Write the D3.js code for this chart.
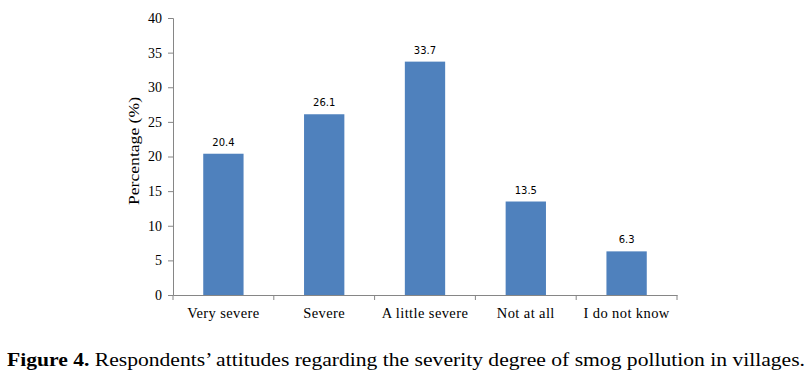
<!DOCTYPE html>
<html>
<head>
<meta charset="utf-8">
<script src="https://cdn.jsdelivr.net/npm/d3@7"></script>
<style>
  body { margin: 0; background: #fff; }
</style>
</head>
<body>
<div class="chart"></div>
<script>
var categories = ["Very severe", "Severe", "A little severe", "Not at all", "I do not know"];
var values = [20.4, 26.1, 33.7, 13.5, 6.3];
var yTicks = [0, 5, 10, 15, 20, 25, 30, 35, 40];

var width = 812, height = 383;

var svg = d3.select(".chart")
    .append("svg")
    .attr("width", width)
    .attr("height", height);

// plot area
var x = d3.scaleBand()
    .domain(categories)
    .range([173, 677])
    .paddingInner(0.6)
    .paddingOuter(0.3);

var xTick = d3.scaleBand()
    .domain(categories)
    .range([173, 677]);

var y = d3.scaleLinear()
    .domain([0, 40])
    .range([295, 18]);

var axisColor = "#868686";

// y axis
var yAxis = svg.append("g")
    .attr("transform", "translate(173,0)")
    .call(d3.axisLeft(y).tickValues(yTicks).tickSize(5).tickPadding(6));
yAxis.select(".domain").attr("stroke", axisColor);
yAxis.selectAll(".tick line").attr("stroke", axisColor);
yAxis.selectAll(".tick text")
    .attr("fill", "#000")
    .style("font-family", "'Liberation Serif', serif")
    .style("font-size", "14px");

// x axis
var xAxis = svg.append("g")
    .attr("transform", "translate(0,295)")
    .call(d3.axisBottom(xTick).tickSize(0).tickPadding(13));
xAxis.select(".domain").attr("stroke", axisColor);
xAxis.selectAll(".tick text")
    .attr("fill", "#000")
    .style("font-family", "'Liberation Serif', serif")
    .style("font-size", "14.5px")
    .style("letter-spacing", "0.4px");

// boundary ticks between categories
var bounds = categories.map(function (c) { return xTick(c); }).concat([677]);
svg.append("g").selectAll("line")
    .data(bounds)
    .enter().append("line")
    .attr("x1", function (d) { return d; })
    .attr("x2", function (d) { return d; })
    .attr("y1", 295)
    .attr("y2", 300)
    .attr("stroke", axisColor);

// bars
svg.append("g").selectAll("rect")
    .data(values)
    .enter().append("rect")
    .attr("x", function (d, i) { return x(categories[i]); })
    .attr("y", function (d) { return y(d); })
    .attr("width", x.bandwidth())
    .attr("height", function (d) { return y(0) - y(d); })
    .attr("fill", "#4F81BD");

// value labels
svg.append("g").selectAll("text")
    .data(values)
    .enter().append("text")
    .attr("x", function (d, i) { return x(categories[i]) + x.bandwidth() / 2; })
    .attr("y", function (d) { return y(d) - 8; })
    .attr("text-anchor", "middle")
    .style("font-family", "'DejaVu Sans', sans-serif")
    .style("font-size", "10px")
    .text(function (d) { return d.toFixed(1); });

// y label
svg.append("text")
    .attr("transform", "translate(139,151) rotate(-90)")
    .attr("text-anchor", "middle")
    .style("font-family", "'Liberation Serif', serif")
    .style("font-size", "15px")
    .attr("textLength", 108)
    .attr("lengthAdjust", "spacingAndGlyphs")
    .text("Percentage (%)");

// caption
var cap = svg.append("text")
    .attr("x", 7)
    .attr("y", 366)
    .style("font-family", "'Liberation Serif', serif")
    .style("font-size", "19px");
cap.append("tspan").style("font-weight", "bold").text("Figure 4.");
cap.append("tspan").text(" Respondents\u2019 attitudes regarding the severity degree of smog pollution in villages.");
cap.attr("textLength", 798).attr("lengthAdjust", "spacingAndGlyphs");
</script>
</body>
</html>
